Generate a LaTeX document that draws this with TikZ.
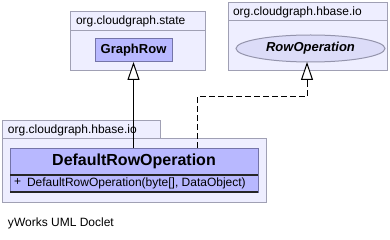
\documentclass[tikz,border=0pt]{standalone}
\usepackage{fontspec}
\setmainfont{Liberation Sans}
\usetikzlibrary{arrows.meta,shapes.geometric}
\definecolor{pkgfill}{HTML}{EEEEFF}
\definecolor{pkgline}{HTML}{A0A0B4}
\definecolor{clsfill}{HTML}{B8B8FF}
\definecolor{clsline}{HTML}{7474A8}
\definecolor{ifcfill}{HTML}{DCDCF8}
\definecolor{ifcline}{HTML}{9494AC}
\begin{document}
\begin{tikzpicture}[x=1pt,y=-1pt,
  every node/.style={inner sep=0pt, outer sep=0pt},
  pkgbox/.style={draw=pkgline, fill=pkgfill, line width=1pt, anchor=north west},
  clsbox/.style={draw=clsline, fill=clsfill, line width=1pt, anchor=north west},
  pkglabel/.style={anchor=west, font=\fontsize{12}{14}\selectfont},
  uml/.style={line width=1pt, black},
  gentip/.style={-{Triangle[open, length=18pt, width=12pt, fill=white]}},
]
\useasboundingbox[fill=white] (0,0) rectangle (390,240);

% package org.cloudgraph.state
\node[pkgbox, minimum width=135pt, minimum height=59pt] (statebody) at (70,12) {};
\node[pkgbox, minimum width=135pt, minimum height=19pt] (statehead) at (70,12) {};
\node[pkglabel] (statelabel) at ([xshift=6pt]statehead.west) {org.cloudgraph.state};
\node[clsbox, minimum width=77pt, minimum height=23pt, font=\fontsize{13}{15}\selectfont\bfseries] (graphrow) at (95,39) {GraphRow};

% package org.cloudgraph.hbase.io (interface)
\node[pkgbox, minimum width=159pt, minimum height=68pt] (iobody) at (228,3) {};
\node[pkgbox, minimum width=159pt, minimum height=18pt] (iohead) at (228,3) {};
\node[pkglabel] (iolabel) at ([xshift=5pt]iohead.west) {org.cloudgraph.hbase.io};
\node[ellipse, draw=ifcline, fill=ifcfill, line width=1pt, minimum width=149pt, minimum height=27pt,
      font=\fontsize{13}{15}\selectfont\bfseries\itshape] (rowop) at (310.5,48.5) {RowOperation};

% package org.cloudgraph.hbase.io (implementation)
\node[pkgbox, minimum width=158pt, minimum height=18pt] (implhead) at (2,121) {};
\node[pkgbox, minimum width=264pt, minimum height=63pt] (implbody) at (2,139) {};
\node[pkglabel] (impllabel) at ([xshift=6pt]implhead.west) {org.cloudgraph.hbase.io};

% class DefaultRowOperation
\node[clsbox, minimum width=248pt, minimum height=44pt] (dro) at (10,148) {};
\node[font=\fontsize{16}{18}\selectfont\bfseries] (droname) at (134,161.5) {DefaultRowOperation};
\draw[line width=1.2pt, black!85] (dro.west |- 0,175) coordinate (sepl) -- (dro.east |- 0,175) coordinate (sepr);
\draw[line width=1.6pt, black!85] (dro.south west) -- (dro.south east);
\node[anchor=west, font=\fontsize{12}{14}\selectfont] (droplus) at (14,182.5) {+};
\node[anchor=west, font=\fontsize{12}{14}\selectfont] (droctor) at (27,183.5) {DefaultRowOperation(byte[], DataObject)};

% footer
\node[anchor=west, font=\fontsize{12}{14}\selectfont] (footer) at (8,223) {yWorks UML Doclet};

% generalization
\draw[uml, gentip] (dro.north -| graphrow.south) -- (graphrow.south);

% realization
\coordinate (bend) at (197,97);
\coordinate (realtip) at (307,62);
\coordinate (realbase) at (307,80);
\draw[uml, dash pattern=on 6pt off 3pt] (bend |- dro.north) -- (bend) -| (realbase);
\draw[uml, gentip] (realbase) -- (realtip);
\end{tikzpicture}
\end{document}
